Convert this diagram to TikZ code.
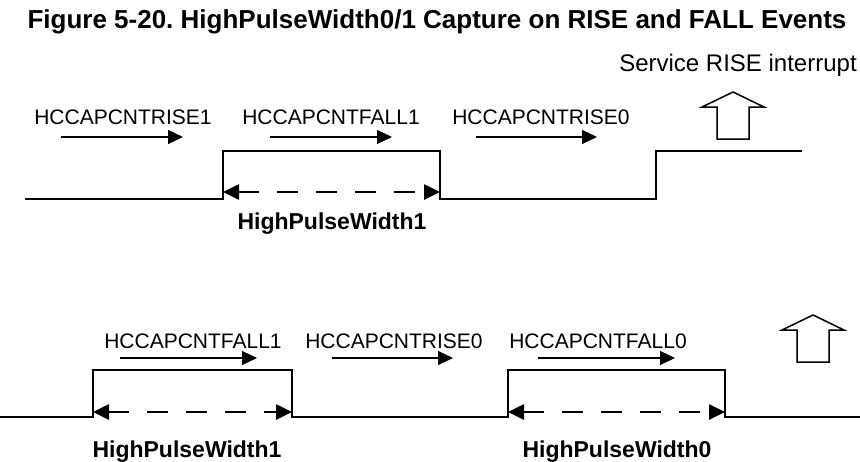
\documentclass[tikz,border=0pt]{standalone}
\usepackage{fontspec}
\setmainfont{Liberation Sans}
\usetikzlibrary{arrows.meta,positioning}
\frenchspacing

\begin{document}
\begin{tikzpicture}[x=1pt, y=-1pt,
  wave/.style={line width=2.7pt, line join=miter},
  evt/.style={line width=1.1pt, -{Triangle[length=15pt,width=14pt]}},
  span/.style={line width=2.6pt, dash pattern=on 21pt off 18pt,
    {Triangle[length=16pt,width=15pt]}-{Triangle[length=16pt,width=15pt]}},
  lbl/.style={font=\fontsize{21}{25}\selectfont, anchor=base, inner sep=0pt},
  wlbl/.style={font=\fontsize{23}{27}\selectfont\bfseries, anchor=base, inner sep=0pt},
  srvarrow/.pic={\draw[line width=1.5pt, line join=miter] (0,0) -- (31,15) -- (16,15)
    -- (16,47) -- (-16,47) -- (-16,15) -- (-31,15) -- cycle;}]

\useasboundingbox (0,0) rectangle (860,461);

% --- Title ---
\node[font=\fontsize{26}{30}\selectfont\bfseries] (title) at (437,22)
  {Figure 5-20. HighPulseWidth0/1 Capture on RISE and FALL Events};
\node[font=\fontsize{24}{28}\selectfont] (srv) at (738,65) {Service RISE interrupt};

% --- Upper trace ---
\node[lbl] (tR1) at (123,124.5) {HCCAPCNTRISE1};
\node[lbl] (tF1) at (331,124.5) {HCCAPCNTFALL1};
\node[lbl] (tR0) at (541,124.5) {HCCAPCNTRISE0};

\coordinate (tR1a) at (61,137);  \coordinate (tR1b) at (183,137);
\coordinate (tF1a) at (270,137); \coordinate (tF1b) at (392,137);
\coordinate (tR0a) at (476,137); \coordinate (tR0b) at (597,137);
\draw[evt] (tR1a) -- (tR1b);
\draw[evt] (tF1a) -- (tF1b);
\draw[evt] (tR0a) -- (tR0b);

\draw[wave] (25,199) -- (223,199) -- (223,151) -- (440,151) -- (440,199)
  -- (656,199) -- (656,151) -- (802,151);

\coordinate (tW1a) at (223,192); \coordinate (tW1b) at (440,192);
\draw[span] (tW1a) -- (tW1b);
\node[wlbl] (tHW1) at (332,229) {HighPulseWidth1};

\pic at (733,92) {srvarrow};

% --- Lower trace ---
\node[lbl] (bF1) at (193,348.5) {HCCAPCNTFALL1};
\node[lbl] (bR0) at (394,348.5) {HCCAPCNTRISE0};
\node[lbl] (bF0) at (598,348.5) {HCCAPCNTFALL0};

\coordinate (bF1a) at (120,358); \coordinate (bF1b) at (257,358);
\coordinate (bR0a) at (332,358); \coordinate (bR0b) at (453,358);
\coordinate (bF0a) at (538,358); \coordinate (bF0b) at (675,358);
\draw[evt] (bF1a) -- (bF1b);
\draw[evt] (bR0a) -- (bR0b);
\draw[evt] (bF0a) -- (bF0b);

\draw[wave] (0,417) -- (93,417) -- (93,370) -- (292,370) -- (292,417)
  -- (508,417) -- (508,370) -- (725,370) -- (725,417) -- (860,417);

\coordinate (bW1a) at (93,412);  \coordinate (bW1b) at (292,412);
\coordinate (bW0a) at (508,412); \coordinate (bW0b) at (725,412);
\draw[span] (bW1a) -- (bW1b);
\draw[span] (bW0a) -- (bW0b);
\node[wlbl] (bHW1) at (187,457) {HighPulseWidth1};
\node[wlbl] (bHW0) at (617,457) {HighPulseWidth0};

\pic at (813,315) {srvarrow};

\end{tikzpicture}
\end{document}
